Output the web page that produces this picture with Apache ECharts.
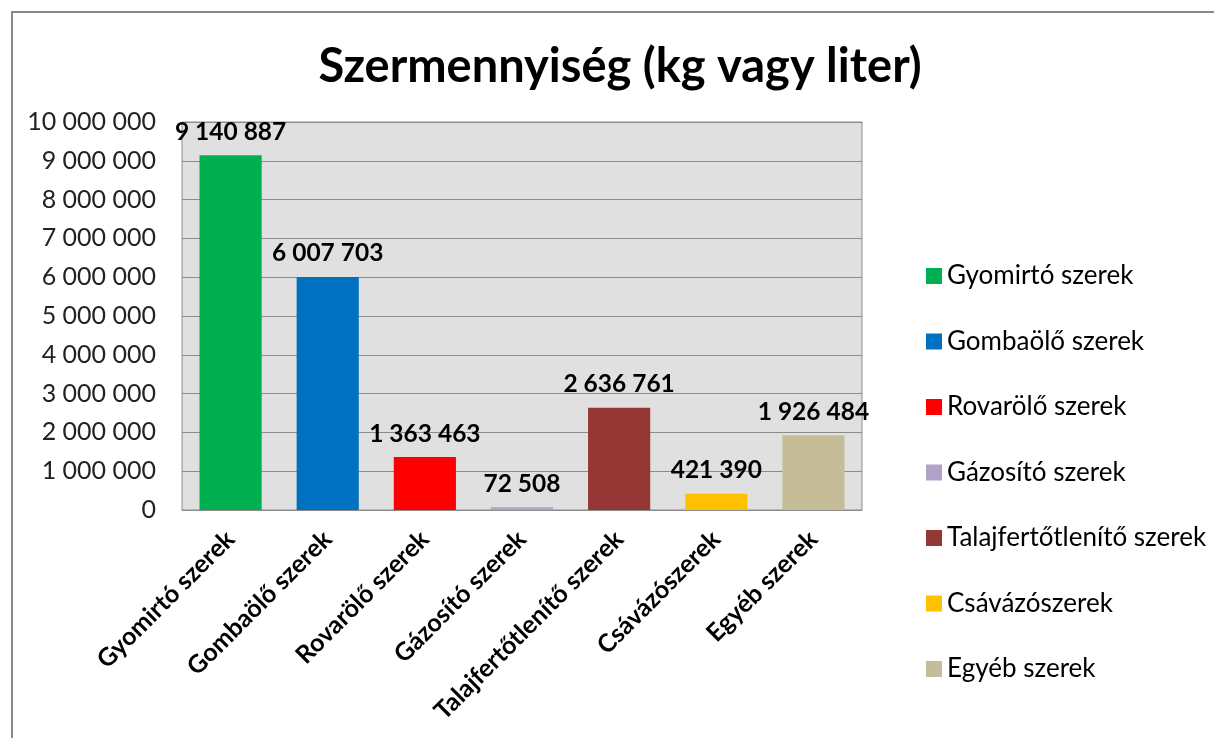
<!DOCTYPE html>
<html>
<head>
<meta charset="utf-8">
<script src="https://cdn.jsdelivr.net/npm/echarts@6/dist/echarts.min.js"></script>
<style>
  html, body { margin: 0; padding: 0; background: #fff; }
  #chart { width: 1214px; height: 738px; }
</style>
</head>
<body>
<div id="chart"></div>
<script>
const categories = ['Gyomirtó szerek', 'Gombaölő szerek', 'Rovarölő szerek', 'Gázosító szerek',
    'Talajfertőtlenítő szerek', 'Csávázószerek', 'Egyéb szerek'];
const values = [9140887, 6007703, 1363463, 72508, 2636761, 421390, 1926484];
const colors = ['#00b050', '#0070c0', '#ff0000', '#b3a2c7', '#953735', '#ffc000', '#c4bd97'];
const yTicks = [0, 10000000, 1000000];

const FONT = 'Lato, "Open Sans", sans-serif';

function fmt(v) {
    return String(v).replace(/\B(?=(\d{3})+(?!\d))/g, ' ');
}

// one series per category so the legend lists each category with its colour
const series = categories.map((name, i) => ({
    name: name,
    type: 'bar',
    barWidth: '64%',
    barGap: '-100%',
    data: categories.map((c, j) => (j === i ? values[i] : null)),
    itemStyle: { color: colors[i] },
    label: {
        show: true,
        position: 'top',
        distance: 11,
        fontFamily: FONT,
        fontSize: 24.5,
        fontWeight: 'bold',
        color: '#000',
        formatter: p => fmt(p.value)
    }
}));

const chart = echarts.init(document.getElementById('chart'));
chart.setOption({
    animation: false,
    title: {
        text: 'Szermennyiség (kg vagy liter)',
        left: 615,
        textAlign: 'center',
        top: 38,
        textStyle: { fontFamily: FONT, fontSize: 47, fontWeight: 'bold', color: '#000' }
    },
    graphic: [{
        type: 'rect',
        shape: { x: 12, y: 12, width: 1300, height: 900 },
        style: { fill: 'none', stroke: '#8a8a8a', lineWidth: 2 },
        silent: true
    }],
    legend: {
        orient: 'vertical',
        left: 921,
        top: 258,
        icon: 'rect',
        itemWidth: 16,
        itemHeight: 16,
        itemGap: 39.5,
        textStyle: { fontFamily: FONT, fontSize: 26, color: '#000', lineHeight: 26 },
        data: categories
    },
    grid: {
        left: 182,
        right: 352,
        top: 122,
        bottom: 228,
        show: true,
        backgroundColor: '#e0e0e0',
        borderColor: '#8c8c8c',
        borderWidth: 1
    },
    xAxis: {
        type: 'category',
        data: categories,
        axisLine: { lineStyle: { color: '#8c8c8c' } },
        axisTick: { show: false },
        axisLabel: {
            interval: 0,
            rotate: 45,
            margin: 25,
            fontFamily: FONT,
            fontSize: 25,
            fontWeight: 'bold',
            color: '#000'
        }
    },
    yAxis: {
        type: 'value',
        min: yTicks[0],
        max: yTicks[1],
        interval: yTicks[2],
        axisLine: { show: false },
        axisTick: { show: false },
        splitLine: { lineStyle: { color: '#8c8c8c' } },
        axisLabel: {
            margin: 26,
            fontFamily: FONT,
            fontSize: 25,
            color: '#222',
            formatter: v => fmt(v)
        }
    },
    series: series
});
</script>
</body>
</html>
